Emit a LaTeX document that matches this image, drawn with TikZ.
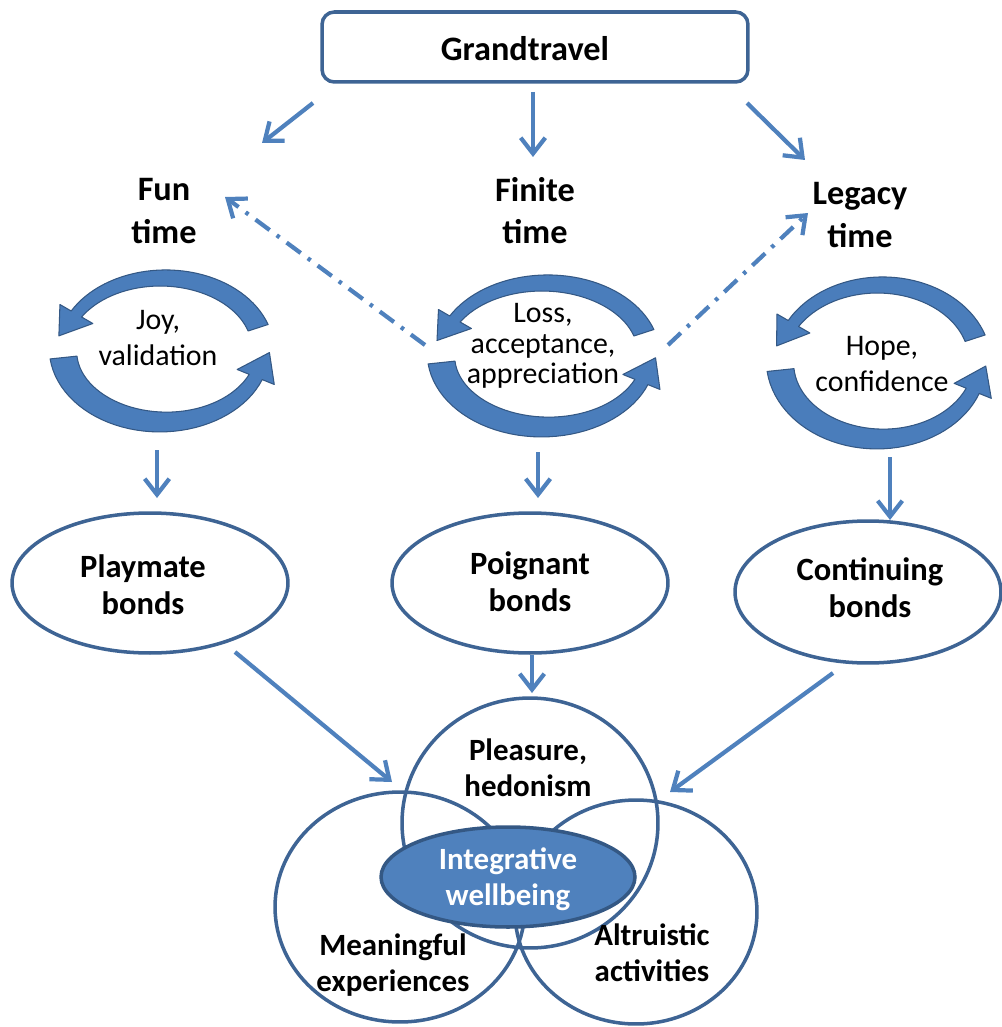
\documentclass[tikz,border=0pt]{standalone}
\usepackage{fontspec}
\setmainfont{Carlito}
\usetikzlibrary{arrows.meta,shapes.geometric}
\definecolor{arrowblue}{RGB}{79,129,189}
\definecolor{edgeblue}{RGB}{62,100,148}
\definecolor{cycfillc}{RGB}{74,125,187}
\definecolor{cycedge}{RGB}{52,88,132}
\tikzset{
  conn/.style={draw=arrowblue, line width=2.4pt, -{Straight Barb[length=9pt,width=14pt]}},
  dashconn/.style={conn, dash pattern=on 10pt off 5pt on 2pt off 5pt},
  timelbl/.style={font=\fontsize{19.5}{24}\selectfont\bfseries, align=center, inner sep=0pt},
  lbl/.style={font=\fontsize{18.5}{21}\selectfont\bfseries, align=center, inner sep=0pt},
  vlbl/.style={font=\fontsize{17.6}{20.5}\selectfont\bfseries, align=center, inner sep=0pt},
  txt/.style={font=\fontsize{17}{20.5}\selectfont, align=center, inner sep=0pt},
  bondell/.style={ellipse, draw=edgeblue, line width=2pt, inner sep=0pt},
  venn/.style={ellipse, draw=edgeblue, line width=2pt, inner sep=0pt},
  cycstyle/.style={fill=cycfillc, draw=cycedge, line width=0.6pt, line join=round},
}
% rx ry a1 a2 w1 w2 headhalf headlength
\newcommand{\cycband}[8]{%
  \pgfmathsetmacro\cbx{#1*cos(#4)}%
  \pgfmathsetmacro\cby{#2*sin(#4)}%
  \pgfmathsetmacro\ctx{-#1*sin(#4)}%
  \pgfmathsetmacro\cty{#2*cos(#4)}%
  \pgfmathsetmacro\ctl{sqrt(\ctx*\ctx+\cty*\cty)}%
  \pgfmathsetmacro\cux{\ctx/\ctl}%
  \pgfmathsetmacro\cuy{\cty/\ctl}%
  \filldraw[cycstyle]
    plot[domain=#3:#4, samples=40] ({(#1+(#5+(#6-#5)*(\x-#3)/(#4-#3))/2)*cos(\x)}, {(#2+(#5+(#6-#5)*(\x-#3)/(#4-#3))/2)*sin(\x)})
    -- ({(#1+#7)*cos(#4)}, {(#2+#7)*sin(#4)})
    -- ({\cbx+#8*\cux}, {\cby+#8*\cuy})
    -- ({(#1-#7)*cos(#4)}, {(#2-#7)*sin(#4)})
    -- plot[domain=#4:#3, samples=40] ({(#1-(#5+(#6-#5)*(\x-#3)/(#4-#3))/2)*cos(\x)}, {(#2-(#5+(#6-#5)*(\x-#3)/(#4-#3))/2)*sin(\x)})
    -- cycle;
}
\newcommand{\cycpair}[4]{% cx cy rx ry
  \begin{scope}[shift={(#1,#2)}, yscale=-1]
    \cycband{#3}{#4}{18}{150}{21}{12}{19}{28}
    \cycband{#3}{#4}{186}{338}{27}{14}{20}{28}
  \end{scope}
}
\begin{document}
\begin{tikzpicture}[x=0.02cm, y=-0.02cm]
\useasboundingbox (0,0) rectangle (1001,1027);

% top box
\node[draw=edgeblue, line width=2pt, rounded corners=7pt, minimum width=8.52cm, minimum height=1.4cm] (grand) at (535,47) {};
\node[font=\fontsize{19.5}{22}\selectfont\bfseries, inner sep=0pt] (grandtext) at (525,49) {Grandtravel};

% time labels
\node[timelbl] (fun) at (164,211) {Fun\\time};
\node[timelbl] (finite) at (535,211) {Finite\\time};
\node[timelbl] (legacy) at (860,215) {Legacy\\time};

% cycles
\cycpair{163}{350}{100}{72}
\cycpair{545}{355}{104}{72}
\cycpair{880}{362}{100}{77}
\node[txt] (joy) at (158,338) {Joy,\\validation};
\node[txt, font=\fontsize{17}{17.5}\selectfont] (loss) at (543,346) {Loss,\\acceptance,\\appreciation};
\node[txt] (hope) at (882,364) {Hope,\\confidence};

% bonds
\node[bondell, minimum width=5.52cm, minimum height=2.8cm] (playmate) at (150,583) {};
\node[lbl] (playmatetext) at (143,585) {Playmate\\bonds};
\node[bondell, minimum width=5.52cm, minimum height=2.8cm] (poignant) at (530,583) {};
\node[lbl] (poignanttext) at (530,582) {Poignant\\bonds};
\node[bondell, minimum width=5.32cm, minimum height=2.84cm] (continuing) at (868,592) {};
\node[lbl] (continuingtext) at (870,588) {Continuing\\bonds};

% venn
\node[venn, minimum width=5.12cm, minimum height=5cm] (pleasure) at (530,823) {};
\node[venn, minimum width=5cm, minimum height=4.6cm] (meaningful) at (400,907) {};
\node[venn, minimum width=4.84cm, minimum height=4.48cm] (altruistic) at (636,912) {};
\node[ellipse, fill=arrowblue, draw=cycedge, line width=2pt, minimum width=5.08cm, minimum height=2cm, inner sep=0pt] (integ) at (508,877) {};
\node[vlbl, text=white] (integtext) at (508,879) {Integrative\\wellbeing};
\node[vlbl] (pleasuretext) at (528,768) {Pleasure,\\hedonism};
\node[vlbl] (meaningfultext) at (393,965) {Meaningful\\experiences};
\node[vlbl] (altruistictext) at (652,953) {Altruistic\\activities};

% connector end points
\coordinate (g1) at (313,103); \coordinate (g1e) at (262,143);
\coordinate (g2) at (533,92);  \coordinate (g2e) at (533,157);
\coordinate (g3) at (747,103); \coordinate (g3e) at (805,160);
\coordinate (d1) at (425,345); \coordinate (d1e) at (225,197);
\coordinate (d2) at (668,345); \coordinate (d2e) at (808,213);
\coordinate (c1) at (157,450); \coordinate (c1e) at (157,498);
\coordinate (c2) at (538,452); \coordinate (c2e) at (538,498);
\coordinate (c3) at (890,457); \coordinate (c3e) at (890,520);
\coordinate (b1) at (235,652); \coordinate (b1e) at (392,782);
\coordinate (b2) at (532,655); \coordinate (b2e) at (532,693);
\coordinate (b3) at (833,673); \coordinate (b3e) at (670,792);

\draw[conn] (g1) -- (g1e);
\draw[conn] (g2) -- (g2e);
\draw[conn] (g3) -- (g3e);
\draw[dashconn] (d1) -- (d1e);
\draw[dashconn] (d2) -- (d2e);
\draw[conn] (c1) -- (c1e);
\draw[conn] (c2) -- (c2e);
\draw[conn] (c3) -- (c3e);
\draw[conn] (b1) -- (b1e);
\draw[conn] (b2) -- (b2e);
\draw[conn] (b3) -- (b3e);
\end{tikzpicture}
\end{document}
